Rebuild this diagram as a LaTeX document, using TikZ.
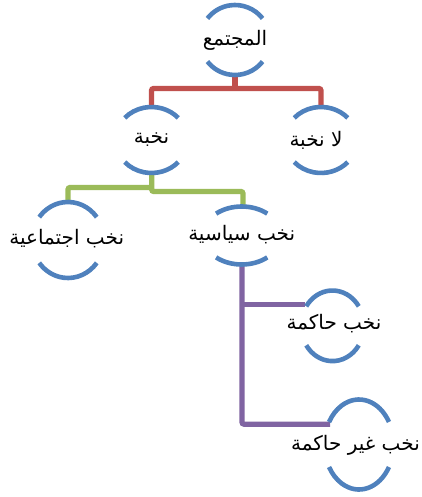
\documentclass[tikz,border=0pt]{standalone}
\usepackage{fontspec}
\newfontfamily\arabicfont[Script=Arabic]{DejaVu Sans}
\TeXXeTstate=1
\definecolor{arcblue}{HTML}{4F81BD}
\definecolor{linered}{HTML}{C0504D}
\definecolor{linegreen}{HTML}{9BBB59}
\definecolor{linepurple}{HTML}{8064A2}
\tikzset{
  arcstyle/.style={draw=arcblue, line width=4.6pt, line cap=butt},
  conn/.style={line width=5.2pt, rounded corners=2pt},
  lbl/.style={font=\arabicfont\fontsize{20}{22}\selectfont, inner sep=0pt, anchor=center}
}
\newcommand{\ringarcs}[5]{%
  \draw[arcstyle] (#1,#2) ++(#5:#3pt and #4pt) arc[start angle=#5, end angle=180-#5, x radius=#3pt, y radius=#4pt];
  \draw[arcstyle] (#1,#2) ++(-#5:#3pt and #4pt) arc[start angle=-#5, end angle=-180+#5, x radius=#3pt, y radius=#4pt];
}
\begin{document}
\begin{tikzpicture}[x=1pt, y=-1pt]
\useasboundingbox (0,0) rectangle (421,497);
% connector end points
\coordinate (p1) at (235,76);
\coordinate (j1) at (235,88.5);
\coordinate (c2) at (151.5,106);
\coordinate (c3) at (321,106);
\coordinate (p2) at (151.7,173);
\coordinate (j2a) at (151.7,187.5);
\coordinate (j2b) at (151.7,191.5);
\coordinate (c4) at (68,201);
\coordinate (c5) at (243,207);
\coordinate (p5) at (242,264);
\coordinate (j5) at (242,304.2);
\coordinate (c6) at (305,304.2);
\coordinate (c7) at (330,424.2);
% connectors
\draw[conn, draw=linered] (c2) |- (j1) -| (c3);
\draw[conn, draw=linered] (p1) -- (j1);
\draw[conn, draw=linegreen] (p2) -- (j2b) -| (c5);
\draw[conn, draw=linegreen] (j2a) -| (c4);
\draw[conn, draw=linepurple] (p5) |- (c7);
\draw[conn, draw=linepurple] (j5) -- (c6);
% arcs
\ringarcs{235}{40}{35}{35}{38}
\ringarcs{151.5}{140}{36}{33}{42}
\ringarcs{321}{140}{36}{33}{42}
\ringarcs{68}{240}{36}{38}{37}
\ringarcs{241.7}{235.5}{39}{29}{49}
\ringarcs{332.5}{325.8}{31.5}{35.3}{33.5}
\ringarcs{359}{444.5}{34.6}{45}{30}
% labels
\node[lbl] (t1) at (235,40) {\beginR المجتمع\endR};
\node[lbl] (t2) at (151.5,140) {\beginR نخبة\endR};
\node[lbl] (t3) at (316,140) {\beginR لا نخبة\endR};
\node[lbl] (t4) at (66.7,239) {\beginR نخب اجتماعية\endR};
\node[lbl] (t5) at (241.7,235) {\beginR نخب سياسية\endR};
\node[lbl] (t6) at (334,324) {\beginR نخب حاكمة\endR};
\node[lbl] (t7) at (355.5,445) {\beginR نخب غير حاكمة\endR};
\end{tikzpicture}
\end{document}
